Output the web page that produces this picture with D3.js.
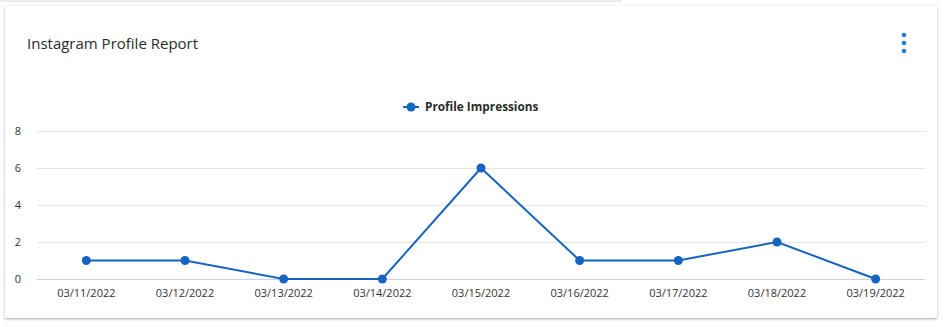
<!DOCTYPE html>
<html>
<head>
<meta charset="utf-8">
<script src="https://cdn.jsdelivr.net/npm/d3@7"></script>
<style>
  body { margin: 0; background: #fff; font-family: "Open Sans", "Noto Sans", sans-serif; }
  .card {
    position: absolute; left: 5px; top: 6px; width: 932px; height: 312px;
    background: #fff;
    box-shadow: 0 1px 3px rgba(0,0,0,0.25), 0 1px 1px rgba(0,0,0,0.1);
  }
  .strip { position: absolute; left: 0; top: 0; width: 622px; height: 2px; background: #ececec; }
</style>
</head>
<body>
<div class="strip"></div>
<div class="card"></div>
<svg id="chart" width="944" height="327" style="position:absolute;left:0;top:0"></svg>
<script>
// data
var dates = ['03/11/2022', '03/12/2022', '03/13/2022', '03/14/2022', '03/15/2022',
             '03/16/2022', '03/17/2022', '03/18/2022', '03/19/2022'];
var impressions = [1, 1, 0, 0, 6, 1, 1, 2, 0];
var yTicks = [0, 2, 4, 6, 8];
var seriesName = 'Profile Impressions';
var chartTitle = 'Instagram Profile Report';

var lineColor = '#1565c0';
var svg = d3.select('#chart');

svg.append('text')
  .attr('x', 27).attr('y', 49)
  .style('font-size', '15px')
  .style('fill', '#2b2b2b')
  .text(chartTitle);

// kebab menu
svg.append('g').selectAll('circle')
  .data([35, 43, 51])
  .enter().append('circle')
    .attr('cx', 904).attr('cy', d => d)
    .attr('r', 2.2)
    .attr('fill', '#1e7ce0');

var x = d3.scaleBand().domain(dates).range([37, 925]);
var y = d3.scaleLinear().domain([0, 8]).range([279, 131]);

// grid
svg.append('g').selectAll('line')
  .data(yTicks)
  .enter().append('line')
    .attr('x1', 37).attr('x2', 925)
    .attr('y1', d => y(d) + 0.5).attr('y2', d => y(d) + 0.5)
    .attr('stroke', d => d === 0 ? '#c8d3e0' : '#e6e6e6')
    .attr('stroke-width', 1);

var yAxis = svg.append('g')
  .attr('transform', 'translate(21,0)')
  .call(d3.axisLeft(y).tickValues(yTicks).tickSize(0).tickPadding(0));
yAxis.select('.domain').remove();
yAxis.selectAll('text')
  .style('font-family', '"Open Sans", sans-serif')
  .style('font-size', '11px')
  .style('fill', '#333');

var xAxis = svg.append('g')
  .attr('transform', 'translate(0,286)')
  .call(d3.axisBottom(x).tickSize(0).tickPadding(3));
xAxis.select('.domain').remove();
xAxis.selectAll('text')
  .style('font-family', '"Open Sans", sans-serif')
  .style('font-size', '11px')
  .style('fill', '#333');

var cx = d => x(d) + x.bandwidth() / 2;

var line = d3.line()
  .x((d, i) => cx(dates[i]))
  .y(d => y(d));

svg.append('path')
  .datum(impressions)
  .attr('d', line)
  .attr('fill', 'none')
  .attr('stroke', lineColor)
  .attr('stroke-width', 2);

svg.append('g').selectAll('circle')
  .data(impressions)
  .enter().append('circle')
    .attr('cx', (d, i) => cx(dates[i]))
    .attr('cy', d => y(d))
    .attr('r', 4.5)
    .attr('fill', lineColor);

// legend
var legend = svg.append('g').attr('transform', 'translate(403,107)');
legend.append('line')
  .attr('x1', 0).attr('x2', 16)
  .attr('stroke', lineColor).attr('stroke-width', 2);
legend.append('circle')
  .attr('cx', 8).attr('r', 4.5).attr('fill', lineColor);
legend.append('text')
  .attr('x', 22).attr('dy', '0.35em')
  .style('font-size', '11.8px')
  .style('font-weight', 'bold')
  .style('fill', '#2b2b2b')
  .text(seriesName);
</script>
</body>
</html>
